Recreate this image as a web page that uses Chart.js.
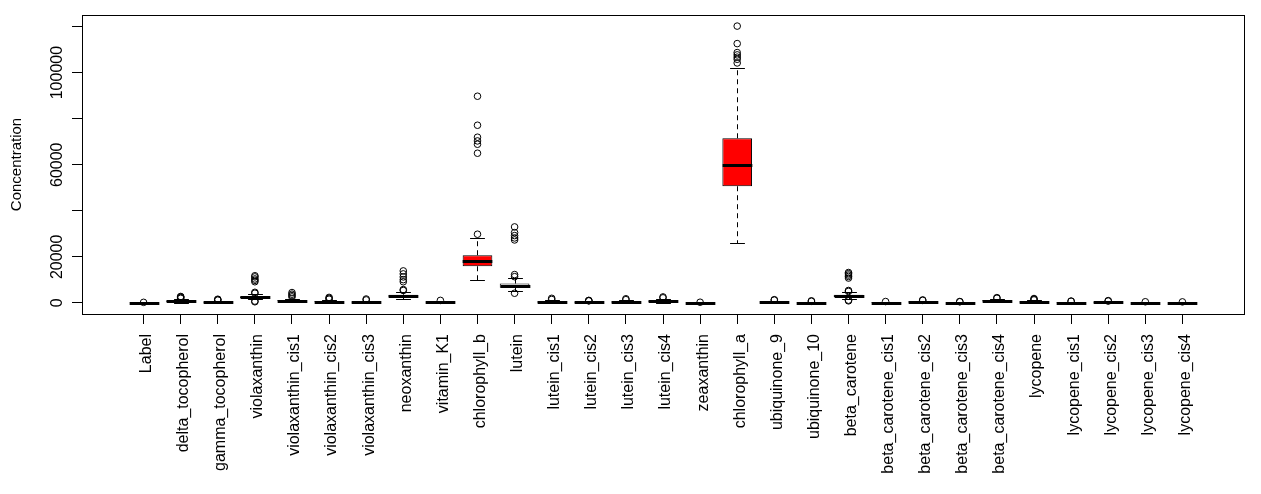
<!DOCTYPE html>
<html>
<head>
<meta charset="utf-8">
<script src="https://cdn.jsdelivr.net/npm/chart.js@4.4.1/dist/chart.umd.min.js"></script>
<style>
html,body{margin:0;padding:0;background:#fff;}
#wrap{width:1261px;height:494px;}
</style>
</head>
<body>
<div id="wrap"><canvas id="c" width="1261" height="494"></canvas></div>
<script>
const categories = ['Label','delta_tocopherol','gamma_tocopherol','violaxanthin','violaxanthin_cis1','violaxanthin_cis2','violaxanthin_cis3','neoxanthin','vitamin_K1','chlorophyll_b','lutein','lutein_cis1','lutein_cis2','lutein_cis3','lutein_cis4','zeaxanthin','chlorophyll_a','ubiquinone_9','ubiquinone_10','beta_carotene','beta_carotene_cis1','beta_carotene_cis2','beta_carotene_cis3','beta_carotene_cis4','lycopene','lycopene_cis1','lycopene_cis2','lycopene_cis3','lycopene_cis4'];
const whiskerLow  = [0,100,0,1500,300,0,0,1800,0,9860,5200,0,0,0,100,0,25920,0,0,1500,0,0,0,200,0,0,0,0,0];
const q1          = [0,500,200,2000,700,300,200,2500,150,15930,6600,200,150,200,500,0,50670,200,50,2600,50,200,0,600,200,50,50,0,0];
const median      = [50,700,350,2400,900,500,350,3000,300,18240,7500,400,300,400,800,60,59790,400,150,3100,150,400,100,900,400,150,200,80,80];
const q3          = [100,1000,550,2900,1200,750,550,3600,500,20710,8400,650,500,600,1100,120,71500,600,250,3600,250,600,200,1200,600,250,350,160,160];
const whiskerHigh = [200,1700,1000,3700,1900,1300,1000,4800,900,28090,10700,1200,800,1100,1800,250,101900,1000,500,4600,450,1000,400,1800,1100,500,600,300,300];
const outliers = [
  [250],
  [2000,2300,2600,2800],
  [1200,1400,1600],
  [500,800,4200,4600,9200,9800,10400,11300,11800],
  [2600,3200,3800,4500],
  [1600,2000,2400],
  [1300,1700],
  [5400,5800,9200,10100,11300,12600,13900],
  [1100],
  [29830,65000,68900,70340,71950,77150,89750],
  [4200,11400,12300,27350,28220,29230,30520,33000],
  [1500,2000],
  [900,1000,1100],
  [1400,1800],
  [2200,2600],
  [300],
  [104200,105800,106700,107700,108700,112600,120200],
  [1200,1400],
  [700,900],
  [900,1200,5000,5400,10800,11500,12100,12700,13200],
  [600],
  [1100,1300],
  [500,600],
  [2000,2300],
  [1300,1600,1900],
  [700,800],
  [800,1000],
  [500],
  [450]
];
const yTicks = [0,20000,40000,60000,80000,100000,120000];
const yTickLabels = ['0','20000','','60000','','100000',''];
const highlighted = ['chlorophyll_b','chlorophyll_a'];

const FONT = "'Liberation Sans', Arial, sans-serif";

const boxParts = {
  id: 'boxParts',
  afterDatasetDraw(chart, args) {
    if (args.index !== 1) return;
    const {ctx, scales: {x, y}} = chart;
    const meta = chart.getDatasetMeta(1);
    ctx.save();
    ctx.strokeStyle = '#000';
    categories.forEach((c, i) => {
      const cx = Math.round(x.getPixelForValue(i)) + 0.5;
      const bw = meta.data[i].width;
      const capHalf = bw / 4;
      const yq1 = y.getPixelForValue(q1[i]);
      const yq3 = y.getPixelForValue(q3[i]);
      const ylo = Math.round(y.getPixelForValue(whiskerLow[i])) + 0.5;
      const yhi = Math.round(y.getPixelForValue(whiskerHigh[i])) + 0.5;
      ctx.lineWidth = 1;
      ctx.setLineDash([5, 4]);
      ctx.beginPath();
      ctx.moveTo(cx, yq3); ctx.lineTo(cx, yhi);
      ctx.moveTo(cx, yq1); ctx.lineTo(cx, ylo);
      ctx.stroke();
      ctx.setLineDash([]);
      ctx.beginPath();
      ctx.moveTo(cx - capHalf, yhi); ctx.lineTo(cx + capHalf, yhi);
      ctx.moveTo(cx - capHalf, ylo); ctx.lineTo(cx + capHalf, ylo);
      ctx.stroke();
      const ym = Math.round(y.getPixelForValue(median[i])) + 0.5;
      ctx.lineWidth = 3;
      ctx.beginPath();
      ctx.moveTo(cx - bw / 2, ym); ctx.lineTo(cx + bw / 2, ym);
      ctx.stroke();
    });
    ctx.restore();
  },
  afterDraw(chart) {
    const {ctx, chartArea: a, scales: {y}} = chart;
    ctx.save();
    ctx.strokeStyle = '#000';
    ctx.lineWidth = 1;
    ctx.strokeRect(Math.round(a.left) + 0.5, Math.round(a.top) + 0.5, Math.round(a.right - a.left), Math.round(a.bottom - a.top));
    ctx.fillStyle = '#000';
    ctx.font = '16px ' + FONT;
    ctx.textAlign = 'center';
    ctx.textBaseline = 'alphabetic';
    yTicks.forEach((v, i) => {
      if (!yTickLabels[i]) return;
      ctx.save();
      ctx.translate(a.left - 20, y.getPixelForValue(v));
      ctx.rotate(-Math.PI / 2);
      ctx.fillText(yTickLabels[i], 0, 0);
      ctx.restore();
    });
    ctx.restore();
  }
};

new Chart(document.getElementById('c'), {
  type: 'bar',
  data: {
    datasets: [
      {
        type: 'scatter',
        data: outliers.flatMap((arr, i) => arr.map(v => ({x: i, y: v}))),
        pointStyle: 'circle',
        pointRadius: 3.3,
        pointBorderWidth: 1,
        pointBorderColor: '#000',
        pointBackgroundColor: 'rgba(0,0,0,0)',
        showLine: false
      },
      {
        type: 'bar',
        data: categories.map((c, i) => ({x: i, y: [q1[i], q3[i]]})),
        backgroundColor: categories.map(c => highlighted.includes(c) ? '#FF0000' : '#FFFFFF'),
        borderColor: '#000',
        borderWidth: 1,
        borderSkipped: false,
        barPercentage: 0.8,
        categoryPercentage: 1,
        grouped: false
      }
    ]
  },
  options: {
    responsive: false,
    animation: false,
    layout: {padding: {top: 15, right: 17, left: 0, bottom: 0}},
    plugins: {legend: {display: false}, tooltip: {enabled: false}},
    scales: {
      x: {
        type: 'linear',
        min: -1.66,
        max: 29.66,
        offset: false,
        afterBuildTicks: s => { s.ticks = categories.map((c, i) => ({value: i})); },
        afterFit: s => { s.height = 180; },
        grid: {display: true, offset: false, drawOnChartArea: false, drawTicks: true, tickLength: 10, color: '#000'},
        border: {display: true, color: '#000'},
        ticks: {
          autoSkip: false,
          minRotation: 90,
          maxRotation: 90,
          padding: 10,
          labelOffset: 3,
          color: '#000',
          font: {family: FONT, size: 16},
          callback: v => categories[v]
        }
      },
      y: {
        type: 'linear',
        min: -4810,
        max: 125020,
        afterBuildTicks: s => { s.ticks = yTicks.map(v => ({value: v})); },
        afterFit: s => { s.width = 82; },
        grid: {display: true, drawOnChartArea: false, drawTicks: true, tickLength: 10, color: '#000'},
        border: {display: true, color: '#000'},
        ticks: {display: false},
        title: {display: true, text: 'Concentration', color: '#000', font: {family: FONT, size: 15}, padding: {top: 8, bottom: 0}}
      }
    }
  },
  plugins: [boxParts]
});
</script>
</body>
</html>
